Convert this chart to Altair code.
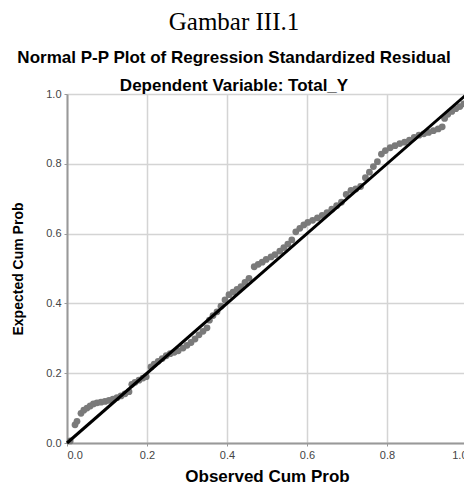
import altair as alt
import pandas as pd

observed = [0.008, 0.020, 0.025, 0.035, 0.042, 0.050, 0.058, 0.066, 0.075, 0.085,
            0.095, 0.105, 0.115, 0.125, 0.135, 0.145, 0.155, 0.162, 0.170, 0.180,
            0.190, 0.198, 0.210, 0.218, 0.228, 0.238, 0.248, 0.258, 0.268, 0.278,
            0.290, 0.300, 0.310, 0.320, 0.330, 0.340, 0.350, 0.356, 0.365, 0.375,
            0.385, 0.395, 0.405, 0.415, 0.425, 0.435, 0.445, 0.455, 0.468, 0.478,
            0.488, 0.498, 0.510, 0.520, 0.532, 0.542, 0.552, 0.562, 0.572, 0.582,
            0.592, 0.602, 0.614, 0.626, 0.638, 0.650, 0.662, 0.674, 0.686, 0.698,
            0.710, 0.722, 0.734, 0.746, 0.756, 0.766, 0.776, 0.786, 0.796, 0.808,
            0.820, 0.832, 0.844, 0.856, 0.868, 0.880, 0.892, 0.904, 0.916, 0.928,
            0.938, 0.944, 0.952, 0.962, 0.972, 0.982, 0.992]
expected = [0.006, 0.052, 0.062, 0.085, 0.094, 0.100, 0.106, 0.112, 0.115, 0.117,
            0.119, 0.122, 0.126, 0.130, 0.135, 0.141, 0.147, 0.168, 0.174, 0.180,
            0.186, 0.190, 0.218, 0.226, 0.234, 0.242, 0.250, 0.256, 0.260, 0.264,
            0.272, 0.280, 0.288, 0.298, 0.310, 0.320, 0.330, 0.352, 0.365, 0.376,
            0.392, 0.410, 0.425, 0.432, 0.440, 0.448, 0.460, 0.472, 0.505, 0.512,
            0.518, 0.526, 0.533, 0.540, 0.550, 0.560, 0.570, 0.582, 0.605, 0.615,
            0.625, 0.632, 0.638, 0.645, 0.652, 0.660, 0.670, 0.680, 0.690, 0.712,
            0.724, 0.728, 0.735, 0.760, 0.776, 0.792, 0.806, 0.828, 0.838, 0.846,
            0.852, 0.858, 0.862, 0.868, 0.876, 0.882, 0.886, 0.890, 0.895, 0.900,
            0.906, 0.930, 0.942, 0.950, 0.958, 0.964, 0.972]

ref_x = [0.0, 1.0]
ref_y = [0.0, 1.0]
tick_values = [0.0, 0.2, 0.4, 0.6, 0.8, 1.0]

pts = pd.DataFrame({"obs": observed, "exp": expected})
ref = pd.DataFrame({"obs": ref_x, "exp": ref_y})

xscale = alt.Scale(domain=[0, 1], nice=False)
yscale = alt.Scale(domain=[0, 1], nice=False)

xaxis = alt.Axis(title="Observed Cum Prob", values=tick_values, format=".1f",
                 titleFont="Liberation Sans", titleFontSize=17, titleFontWeight="bold",
                 titleColor="#000", titlePadding=8,
                 labelFont="Liberation Sans", labelFontSize=11, labelColor="#444",
                 labelPadding=3, tickSize=3, tickColor="#999", domainColor="#999",
                 domainWidth=2, gridColor="#d4d4d4", gridWidth=1.5)
yaxis = alt.Axis(title="Expected Cum Prob", values=tick_values, format=".1f",
                 titleFont="Liberation Sans", titleFontSize=14, titleFontWeight="bold",
                 titleColor="#000", titlePadding=20,
                 labelFont="Liberation Sans", labelFontSize=11, labelColor="#444",
                 labelPadding=3, tickSize=3, tickColor="#999", domainColor="#999",
                 domainWidth=2, gridColor="#d4d4d4", gridWidth=1.5)

points = alt.Chart(pts).mark_circle(size=46, color="#7a7a7a", opacity=1).encode(
    x=alt.X("obs:Q", scale=xscale, axis=xaxis),
    y=alt.Y("exp:Q", scale=yscale, axis=yaxis),
)
line = alt.Chart(ref).mark_line(color="#000", strokeWidth=3).encode(
    x=alt.X("obs:Q", scale=xscale),
    y=alt.Y("exp:Q", scale=yscale),
)

chart = alt.layer(points, line).properties(
    width=400,
    height=349,
    autosize=alt.AutoSizeParams(type="none"),
    padding={"left": 59, "top": 86, "right": -3, "bottom": 44},
    title=alt.TitleParams(
        text="Gambar III.1",
        subtitle=["Normal P-P Plot of Regression Standardized Residual",
                  "Dependent Variable: Total_Y"],
        font="Liberation Serif", fontSize=25, fontWeight="normal", color="#000",
        subtitleFont="Liberation Sans", subtitleFontSize=17,
        subtitleFontWeight="bold", subtitleColor="#000",
        subtitleLineHeight=28, subtitlePadding=15,
        anchor="middle", dx=-33, dy=8, offset=2,
    ),
).configure_view(stroke=None)

chart.save("out.html", embed_options={"renderer": "svg", "actions": False})
